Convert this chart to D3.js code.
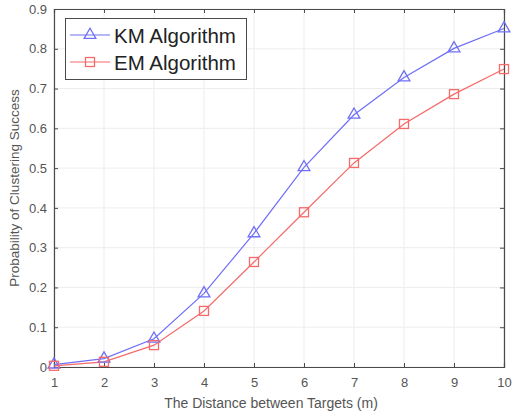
<!DOCTYPE html>
<html>
<head>
<meta charset="utf-8">
<script src="https://cdn.jsdelivr.net/npm/d3@7"></script>
<style>
  body { margin: 0; background: #fff; }
  svg { display: block; font-family: "Liberation Sans", Arial, sans-serif; }
</style>
</head>
<body>
<div id="chart"></div>
<script>
// Data
var distances   = [1, 2, 3, 4, 5, 6, 7, 8, 9, 10];
var kmValues    = [0.006, 0.021, 0.071, 0.185, 0.336, 0.502, 0.634, 0.728, 0.801, 0.851];
var emValues    = [0.003, 0.013, 0.055, 0.141, 0.264, 0.389, 0.513, 0.611, 0.686, 0.749];
var seriesNames = ["KM Algorithm", "EM Algorithm"];
var xTicks      = [1, 2, 3, 4, 5, 6, 7, 8, 9, 10];
var yTicks      = [0, 0.1, 0.2, 0.3, 0.4, 0.5, 0.6, 0.7, 0.8, 0.9];

// Size
var chart_width  = 512;
var chart_height = 414;
var margin = { top: 9, right: 8, bottom: 47, left: 54 };
var w = chart_width - margin.left - margin.right;
var h = chart_height - margin.top - margin.bottom;

var blue = "#6f6ff7";
var red  = "#f66a6a";

var svg = d3.select("#chart")
    .append("svg")
    .attr("width", chart_width)
    .attr("height", chart_height);

var g = svg.append("g")
    .attr("transform", "translate(" + margin.left + "," + margin.top + ")");

// Scales
var x = d3.scaleLinear().domain([1, 10]).range([0, w]);
var y = d3.scaleLinear().domain([0, 0.9]).range([h, 0]);

// grid
g.selectAll(".gx").data(xTicks).enter().append("line")
    .attr("x1", d => x(d)).attr("x2", d => x(d))
    .attr("y1", 0).attr("y2", h)
    .style("stroke", "#ededed").style("stroke-width", 1);
g.selectAll(".gy").data(yTicks).enter().append("line")
    .attr("x1", 0).attr("x2", w)
    .attr("y1", d => y(d)).attr("y2", d => y(d))
    .style("stroke", "#ededed").style("stroke-width", 1);

// axes (ticks inward)
var fmt = d => d === 0 ? "0" : d3.format(".1f")(d);
var xAxis = g.append("g")
    .attr("transform", "translate(0," + h + ")")
    .call(d3.axisBottom(x).tickValues(xTicks).tickSize(-4).tickPadding(11).tickFormat(d3.format("d")));
var yAxis = g.append("g")
    .call(d3.axisLeft(y).tickValues(yTicks).tickSize(-4).tickPadding(7).tickFormat(fmt));
var xTop = g.append("g")
    .call(d3.axisTop(x).tickValues(xTicks).tickSize(-4).tickFormat(""));
var yRight = g.append("g")
    .attr("transform", "translate(" + w + ",0)")
    .call(d3.axisRight(y).tickValues(yTicks).tickSize(-4).tickFormat(""));

[xAxis, yAxis, xTop, yRight].forEach(function (a) {
    a.select(".domain").style("stroke", "#4a4a4a").style("stroke-width", 1.2);
    a.selectAll(".tick line").style("stroke", "#4a4a4a");
    a.selectAll(".tick text").style("fill", "#555").style("font-size", "13px")
        .style("font-family", "'Liberation Sans', Arial, sans-serif");
});

// axis titles
svg.append("text")
    .attr("x", 271)
    .attr("y", 408)
    .attr("text-anchor", "middle")
    .style("font-size", "14px")
    .style("fill", "#555")
    .text("The Distance between Targets (m)");

svg.append("text")
    .attr("transform", "translate(19," + (margin.top + h / 2) + ") rotate(-90)")
    .attr("text-anchor", "middle")
    .style("font-size", "13.5px")
    .style("fill", "#555")
    .text("Probability of Clustering Success");

// lines
var line = d3.line()
    .x((d, i) => x(distances[i]))
    .y(d => y(d));

g.append("path").datum(emValues)
    .attr("d", line)
    .style("fill", "none").style("stroke", red).style("stroke-width", 1.2);
g.append("path").datum(kmValues)
    .attr("d", line)
    .style("fill", "none").style("stroke", blue).style("stroke-width", 1.2);

// markers
var tri = d3.symbol().type(d3.symbolTriangle).size(60);
g.selectAll(".km").data(kmValues).enter().append("path")
    .attr("d", tri)
    .attr("transform", (d, i) => "translate(" + x(distances[i]) + "," + y(d) + ")")
    .style("fill", "none").style("stroke", blue).style("stroke-width", 1.3);

g.selectAll(".em").data(emValues).enter().append("rect")
    .attr("x", (d, i) => x(distances[i]) - 4.5)
    .attr("y", d => y(d) - 4.5)
    .attr("width", 9).attr("height", 9)
    .style("fill", "none").style("stroke", red).style("stroke-width", 1.3);

// legend
var legend = svg.append("g");
legend.append("rect")
    .attr("x", 65.5).attr("y", 18.5)
    .attr("width", 181).attr("height", 61)
    .style("fill", "#fff").style("stroke", "#4a4a4a").style("stroke-width", 1);

var colorsL = [blue, red];
seriesNames.forEach(function (name, i) {
    var ly = 35 + i * 27;
    legend.append("line")
        .attr("x1", 70).attr("x2", 110).attr("y1", ly).attr("y2", ly)
        .style("stroke", colorsL[i]).style("stroke-width", 1.2);
    if (i === 0) {
        legend.append("path").attr("d", tri)
            .attr("transform", "translate(90," + ly + ")")
            .style("fill", "none").style("stroke", blue).style("stroke-width", 1.3);
    } else {
        legend.append("rect")
            .attr("x", 85.5).attr("y", ly - 4.5).attr("width", 9).attr("height", 9)
            .style("fill", "none").style("stroke", red).style("stroke-width", 1.3);
    }
    legend.append("text")
        .attr("x", 114).attr("y", ly + 8)
        .style("font-size", "20.5px")
        .style("fill", "#222")
        .text(name);
});
</script>
</body>
</html>
